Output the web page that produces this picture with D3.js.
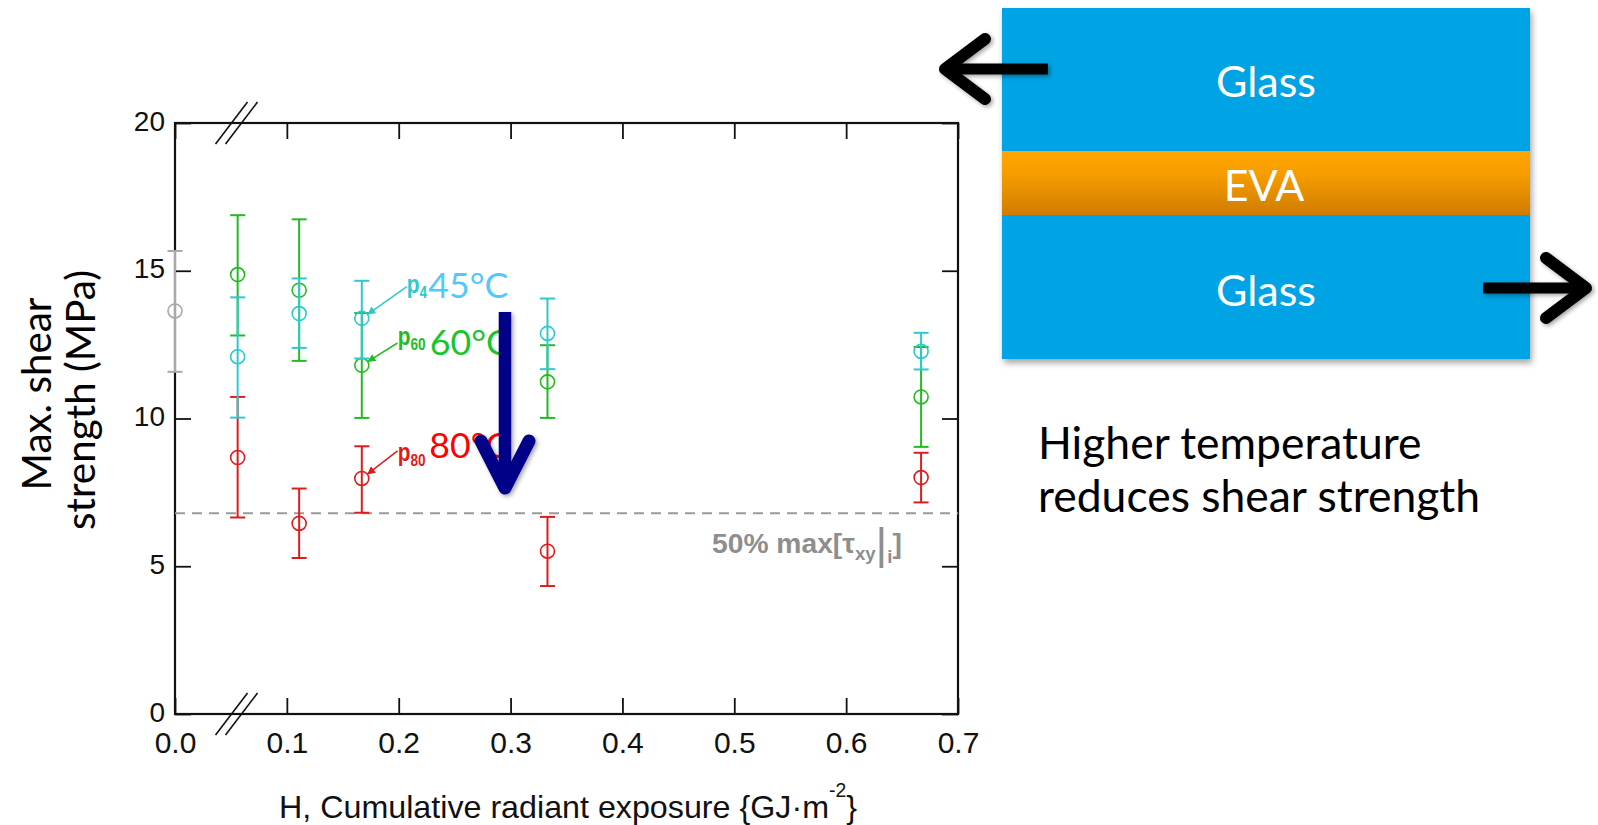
<!DOCTYPE html>
<html><head><meta charset="utf-8">
<script src="https://cdn.jsdelivr.net/npm/d3@7"></script>
<style>html,body{margin:0;padding:0;background:#fff;} svg{display:block;}</style>
</head><body>
<svg id="chart" width="1598" height="825"></svg>
<script>
// ---------------- data ----------------
const xTickValues = [0, 0.1, 0.2, 0.3, 0.4, 0.5, 0.6, 0.7];
const yTickValues = [0, 5, 10, 15, 20];

const refH = [0.0];
const refMean = [13.64];
const refLow = [11.58];
const refHigh = [15.67];

const exposureH = [0.056, 0.111, 0.167, 0.333, 0.667];

const p45Mean = [12.09, 13.55, 13.39, 12.88, 12.27];
const p45Low  = [10.03, 12.39, 12.03, 11.67, 11.66];
const p45High = [14.10, 14.74, 14.66, 14.06, 12.90];

const p60Mean = [14.87, 14.34, 11.80, 11.24, 10.73];
const p60Low  = [12.81, 11.95, 10.02, 10.02, 9.04];
const p60High = [16.88, 16.74, 13.57, 12.48, 12.42];

const p80Mean = [8.68, 6.45, 7.97, 5.51, 8.00];
const p80Low  = [6.65, 5.28, 6.81, 4.33, 7.16];
const p80High = [10.73, 7.63, 9.06, 6.67, 8.84];

const thresholdValue = 6.79;
const seriesSubLabels = ["4", "60", "80"];   // visible part of the p-labels
const seriesTempLabels = ["45°C", "60°C", "80°C"];
const annotatedIndex = 2; // the H = 0.167 column carries the labels
const axisBreakH = 0.055;
const trendArrowH = 0.295, trendArrowFrom = 13.6, trendArrowTo = 7.65;

// ---------------- layout ----------------
const svg = d3.select("#chart");
const X0 = 175, X1 = 958, Y0 = 714, Y1 = 123;
const x = d3.scaleLinear().domain([0, 0.7]).range([X0, X1]);
const y = d3.scaleLinear().domain([0, 20]).range([Y0, Y1]);
const ARIAL = "'Liberation Sans', Arial, sans-serif";
const CAL = "Lato, 'Open Sans', sans-serif";

function fitSize(sel, target) {
  const fs = parseFloat(sel.attr("font-size"));
  const w = sel.node().getComputedTextLength();
  if (w > 0) sel.attr("font-size", (fs * target / w).toFixed(2));
  return parseFloat(sel.attr("font-size"));
}

const defs = svg.append("defs");
const sh = defs.append("filter").attr("id", "shadow").attr("x", "-20%").attr("y", "-20%").attr("width", "140%").attr("height", "150%");
sh.append("feDropShadow").attr("dx", 2).attr("dy", 4).attr("stdDeviation", 3).attr("flood-color", "#000").attr("flood-opacity", 0.35);
const sh2 = defs.append("filter").attr("id", "shadow2").attr("x", "-30%").attr("y", "-30%").attr("width", "160%").attr("height", "160%");
sh2.append("feDropShadow").attr("dx", 2).attr("dy", 2).attr("stdDeviation", 2).attr("flood-color", "#000").attr("flood-opacity", 0.35);
const grad = defs.append("linearGradient").attr("id", "eva").attr("x1", 0).attr("y1", 0).attr("x2", 0).attr("y2", 1);
grad.append("stop").attr("offset", "0%").attr("stop-color", "#ffa500");
grad.append("stop").attr("offset", "35%").attr("stop-color", "#f79d00");
grad.append("stop").attr("offset", "100%").attr("stop-color", "#d07c00");

const series = [
  {name: "p80", color: "#dd1c1c", mean: p80Mean, low: p80Low, high: p80High},
  {name: "p60", color: "#22bb22", mean: p60Mean, low: p60Low, high: p60High},
  {name: "p45", color: "#2ec9cf", mean: p45Mean, low: p45Low, high: p45High}
];
["c45", "c60", "c80"].forEach((id, i) => {
  const col = [series[2].color, series[1].color, series[0].color][i];
  defs.append("marker").attr("id", id).attr("viewBox", "0 0 10 10").attr("refX", 9).attr("refY", 5)
    .attr("markerWidth", 11).attr("markerHeight", 8).attr("markerUnits", "userSpaceOnUse").attr("orient", "auto")
    .append("path").attr("d", "M0,0L10,5L0,10z").attr("fill", col);
});

// ---------------- axes ----------------
const fmt1 = d3.format(".1f");
const gx = svg.append("g").attr("transform", `translate(0,${Y0})`)
  .call(d3.axisBottom(x).tickValues(xTickValues).tickSizeInner(-16).tickSizeOuter(0).tickPadding(18).tickFormat(fmt1));
const gxt = svg.append("g").attr("transform", `translate(0,${Y1})`)
  .call(d3.axisTop(x).tickValues(xTickValues).tickSizeInner(-16).tickSizeOuter(0).tickFormat(""));
const gy = svg.append("g").attr("transform", `translate(${X0},0)`)
  .call(d3.axisLeft(y).tickValues(yTickValues).tickSizeInner(-16).tickSizeOuter(0).tickPadding(10).tickFormat(d3.format("d")));
const gyr = svg.append("g").attr("transform", `translate(${X1},0)`)
  .call(d3.axisRight(y).tickValues(yTickValues).tickSizeInner(-16).tickSizeOuter(0).tickFormat(""));
[gx, gxt, gy, gyr].forEach(g => {
  g.select(".domain").remove();
  g.selectAll(".tick line").attr("stroke", "#111").attr("stroke-width", 1.8);
});
gx.selectAll(".tick text").attr("font-family", ARIAL).attr("font-size", 30).attr("fill", "#111");
gy.selectAll(".tick text").attr("font-family", ARIAL).attr("font-size", 28).attr("fill", "#111").attr("dy", "0.25em");

svg.append("rect").attr("x", X0).attr("y", Y1).attr("width", X1 - X0).attr("height", Y0 - Y1)
  .attr("fill", "none").attr("stroke", "#111").attr("stroke-width", 2.2);

// axis break marks
[Y0, Y1].forEach(ay => {
  [-5, 5].forEach(off => {
    const cx = x(axisBreakH) + off;
    svg.append("line").attr("x1", cx - 16).attr("y1", ay + 21).attr("x2", cx + 16).attr("y2", ay - 21)
      .attr("stroke", "#111").attr("stroke-width", 1.6);
  });
});

// threshold line + label
svg.append("line").attr("x1", X0).attr("x2", X1).attr("y1", y(thresholdValue)).attr("y2", y(thresholdValue))
  .attr("stroke", "#9a9a9a").attr("stroke-width", 2).attr("stroke-dasharray", "10,7");
const thr = svg.append("text").attr("x", 712).attr("y", y(thresholdValue) + 40)
  .attr("font-family", ARIAL).attr("font-weight", "bold").attr("font-size", 24).attr("fill", "#8e8e8e");
thr.append("tspan").text("50% max[τ");
thr.append("tspan").attr("font-size", "0.66em").attr("dy", "0.38em").text("xy");
thr.append("tspan").attr("font-size", "1.6em").attr("font-weight", "normal").attr("dy", "-0.04em").text("|");
thr.append("tspan").attr("font-size", "0.66em").attr("dy", "0.25em").text("i");
thr.append("tspan").attr("dy", "-0.38em").text("]");
fitSize(thr, 190);

// ---------------- data marks ----------------
function drawErr(g, xs, mean, low, high, color) {
  const cw = 7.5;
  const items = xs.map((h, i) => ({h, m: mean[i], lo: low[i], hi: high[i]}));
  const sel = g.selectAll(null).data(items).enter().append("g");
  sel.append("line").attr("x1", d => x(d.h)).attr("x2", d => x(d.h)).attr("y1", d => y(d.lo)).attr("y2", d => y(d.hi))
    .attr("stroke", color).attr("stroke-width", 2);
  sel.append("line").attr("x1", d => x(d.h) - cw).attr("x2", d => x(d.h) + cw).attr("y1", d => y(d.lo)).attr("y2", d => y(d.lo))
    .attr("stroke", color).attr("stroke-width", 2);
  sel.append("line").attr("x1", d => x(d.h) - cw).attr("x2", d => x(d.h) + cw).attr("y1", d => y(d.hi)).attr("y2", d => y(d.hi))
    .attr("stroke", color).attr("stroke-width", 2);
  sel.append("circle").attr("cx", d => x(d.h)).attr("cy", d => y(d.m)).attr("r", 7)
    .attr("fill", "none").attr("stroke", color).attr("stroke-width", 1.6);
}
const marks = svg.append("g");
drawErr(marks, refH, refMean, refLow, refHigh, "#a8a8a8");
series.forEach(s => drawErr(marks, exposureH, s.mean, s.low, s.high, s.color));

// ---------------- annotations ----------------
const ann = [
  {s: series[2], mk: "c45", big: "#55c8fb", sub: seriesSubLabels[0], temp: seriesTempLabels[0], sx: 45, sy: -31.6, px: 45, py: -25, bx: 66.5, by: -20.6},
  {s: series[1], mk: "c60", big: "#17c62a", sub: seriesSubLabels[1], temp: seriesTempLabels[1], sx: 35.7, sy: -22.3, px: 36, py: -20, bx: 68, by: -10},
  {s: series[0], mk: "c80", big: "#ff0000", sub: seriesSubLabels[2], temp: seriesTempLabels[2], sx: 35.7, sy: -27.6, px: 36, py: -17, bx: 67.5, by: -20}
];
const annG = svg.append("g");
let bigSize = null;
ann.forEach(a => {
  const cx = x(exposureH[annotatedIndex]), cy = y(a.s.mean[annotatedIndex]);
  const len = Math.hypot(a.sx, a.sy), ux = a.sx / len, uy = a.sy / len;
  annG.append("line").attr("x1", cx + a.sx).attr("y1", cy + a.sy).attr("x2", cx + ux * 7.5).attr("y2", cy + uy * 7.5)
    .attr("stroke", a.s.color).attr("stroke-width", 1.5).attr("marker-end", `url(#${a.mk})`);
  const t = annG.append("text").attr("transform", `translate(${cx + a.px},${cy + a.py}) scale(0.8,1)`)
    .attr("font-family", ARIAL).attr("font-weight", "bold").attr("font-size", 26).attr("fill", a.s.color);
  t.append("tspan").text("p");
  t.append("tspan").attr("font-size", 17).attr("dy", 5).text(a.sub);
  const bt = annG.append("text").attr("x", cx + a.bx).attr("y", cy + a.by)
    .attr("font-family", CAL).attr("font-size", 36).attr("fill", a.big).text(a.temp);
  if (bigSize === null) bigSize = fitSize(bt, 80); else bt.attr("font-size", bigSize);
});

// trend arrow
const ta = svg.append("g").attr("filter", "url(#shadow2)");
const tx = x(trendArrowH), ty0 = y(trendArrowFrom), ty1 = y(trendArrowTo);
ta.append("line").attr("x1", tx).attr("x2", tx).attr("y1", ty0).attr("y2", ty1 - 6)
  .attr("stroke", "#000088").attr("stroke-width", 12.5);
ta.append("path").attr("d", `M${tx - 24},${ty1 - 47}L${tx},${ty1}L${tx + 24},${ty1 - 47}`)
  .attr("fill", "none").attr("stroke", "#000088").attr("stroke-width", 13).attr("stroke-linecap", "round").attr("stroke-linejoin", "round");

// ---------------- axis titles ----------------
const xt = svg.append("text").attr("x", 279).attr("y", 818).attr("font-family", ARIAL).attr("font-size", 30).attr("fill", "#111");
xt.append("tspan").text("H, Cumulative radiant exposure {GJ·m");
xt.append("tspan").attr("font-size", "0.6em").attr("dy", "-1.1em").text("-2");
xt.append("tspan").attr("dy", "0.66em").text("}");
fitSize(xt, 578);

const yt2 = svg.append("text").attr("transform", "translate(95,400) rotate(-90)").attr("text-anchor", "middle")
  .attr("font-family", CAL).attr("font-size", 38).attr("fill", "#000").text("strength (MPa)");
const ys = fitSize(yt2, 260);
svg.append("text").attr("transform", "translate(51,394) rotate(-90)").attr("text-anchor", "middle")
  .attr("font-family", CAL).attr("font-size", ys).attr("fill", "#000").text("Max. shear");

// ---------------- laminate diagram ----------------
const dg = svg.append("g");
const stack = dg.append("g").attr("filter", "url(#shadow)");
stack.append("rect").attr("x", 1002).attr("y", 8).attr("width", 528).attr("height", 351).attr("fill", "#02a3e3");
stack.append("rect").attr("x", 1002).attr("y", 151).attr("width", 528).attr("height", 64).attr("fill", "url(#eva)");
const g1 = dg.append("text").attr("x", 1266).attr("y", 97).attr("text-anchor", "middle").attr("font-family", CAL)
  .attr("font-size", 44).attr("fill", "#fff").text("Glass");
const gs = fitSize(g1, 100);
dg.append("text").attr("x", 1264).attr("y", 201).attr("text-anchor", "middle").attr("font-family", CAL)
  .attr("font-size", gs).attr("fill", "#fff").text("EVA");
dg.append("text").attr("x", 1266).attr("y", 306).attr("text-anchor", "middle").attr("font-family", CAL)
  .attr("font-size", gs).attr("fill", "#fff").text("Glass");

function blackArrow(tailX, tipX, yy) {
  const dir = Math.sign(tipX - tailX);
  const g = svg.append("g").attr("filter", "url(#shadow2)");
  g.append("line").attr("x1", tailX).attr("x2", tipX - dir * 6).attr("y1", yy).attr("y2", yy)
    .attr("stroke", "#000").attr("stroke-width", 11);
  g.append("path").attr("d", `M${tipX - dir * 40},${yy - 30}L${tipX},${yy}L${tipX - dir * 40},${yy + 30}`)
    .attr("fill", "none").attr("stroke", "#000").attr("stroke-width", 12).attr("stroke-linecap", "round").attr("stroke-linejoin", "round");
}
blackArrow(1048, 945, 69);
blackArrow(1483, 1586, 288);

// side note
const n2 = svg.append("text").attr("x", 1038).attr("y", 512).attr("font-family", CAL).attr("font-size", 44).attr("fill", "#000")
  .text("reduces shear strength");
const ns = fitSize(n2, 442);
svg.append("text").attr("x", 1038).attr("y", 459).attr("font-family", CAL).attr("font-size", ns).attr("fill", "#000")
  .text("Higher temperature");
</script>
</body></html>
